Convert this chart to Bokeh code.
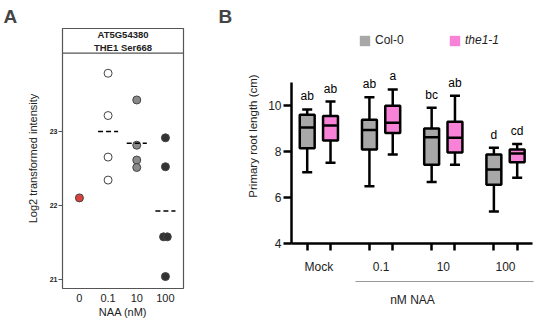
import numpy as np
from bokeh.plotting import figure
from bokeh.layouts import row
from bokeh.models import (ColumnDataSource, FixedTicker, Span, Legend, LegendItem, LinearAxis)
from bokeh.core.properties import value
from bokeh.embed import file_html
from bokeh.resources import INLINE

FONT = "Liberation Sans"

# ---------------- Panel A data ----------------
naa_labels = ["0", "0.1", "10", "100"]
int_0 = [22.10]
int_01 = [23.78, 23.21, 22.65, 22.34]
int_10 = [23.42, 22.81, 22.61, 22.51]
int_100 = [22.91, 22.52, 21.575, 21.575, 21.04]
point_colors = ["#d9423f", "#ffffff", "#8a8a8a", "#333333"]
header_lines = ["AT5G54380", "THE1 Ser668"]

# ---------------- Panel B data ----------------
groups = ["Mock", "0.1", "10", "100"]
genotypes = ["Col-0", "the1-1"]
col_min = [7.10, 6.49, 6.67, 5.39]
col_q1 = [8.14, 8.09, 7.43, 6.55]
col_med = [9.04, 8.94, 8.62, 7.22]
col_q3 = [9.60, 9.38, 9.00, 7.87]
col_max = [9.83, 10.36, 9.90, 8.16]
the_min = [7.51, 7.87, 7.43, 6.86]
the_q1 = [8.48, 8.81, 7.96, 7.53]
the_med = [9.13, 9.25, 8.60, 7.91]
the_q3 = [9.55, 9.99, 9.29, 8.09]
the_max = [10.17, 10.70, 10.42, 8.33]
col_letters = ["ab", "ab", "bc", "d"]
the_letters = ["ab", "a", "ab", "cd"]
box_colors = ["#a8a8a8", "#f882d8"]


def swarm(vals, step=0.13):
    offs = []
    for i, v in enumerate(vals):
        same = [j for j, w in enumerate(vals) if abs(w - v) < 0.05]
        k = same.index(i)
        n = len(same)
        offs.append((k - (n - 1) / 2) * step)
    return offs


# ================= Panel A =================
pA = figure(width=186, height=320, x_range=(-0.59, 3.63), y_range=(20.879, 24.383),
            output_backend="svg", toolbar_location=None, frame_align=False,
            min_border_left=62, min_border_right=3, min_border_top=28, min_border_bottom=31)
pA.title.text = "A"
pA.title.text_font = FONT
pA.title.text_font_size = "19px"
pA.title.text_font_style = "bold"
pA.title.align = "left"
pA.title.offset = -59
pA.title.standoff = 4
pA.grid.visible = False
pA.outline_line_color = "#555555"
pA.outline_line_width = 1.2

for i, vals in enumerate([int_0, int_01, int_10, int_100]):
    xs = [i + o for o in swarm(vals)]
    pA.scatter(xs, vals, size=8, fill_color=point_colors[i], line_color="#444444", line_width=1)
    if len(vals) > 1:
        m = float(np.mean(vals))
        pA.segment(x0=[i - 0.35], y0=[m], x1=[i + 0.35], y1=[m],
                   line_dash="5 3", line_width=1.6, line_color="black")

header_bottom = 24.05
hh = pA.y_range.end - header_bottom
pA.add_layout(Span(location=header_bottom, dimension="width", line_color="#555555", line_width=1.2))
xc = (pA.x_range.start + pA.x_range.end) / 2
pA.text(x=[xc, xc], y=[header_bottom + hh * 0.75, header_bottom + hh * 0.25],
        text=header_lines, text_align="center", text_baseline="middle",
        text_font=value(FONT), text_font_size="9.5px", text_font_style="bold",
        text_color="#222222")

xaA = pA.xaxis[0]
xaA.ticker = FixedTicker(ticks=list(range(len(naa_labels))))
xaA.major_label_overrides = {i: l for i, l in enumerate(naa_labels)}
xaA.axis_line_color = None
xaA.major_tick_line_color = None
xaA.major_tick_out = 0
xaA.major_tick_in = 0
xaA.minor_tick_line_color = None
xaA.minor_tick_out = 0
xaA.major_label_text_font = FONT
xaA.major_label_text_font_size = "11px"
xaA.major_label_text_color = "#222222"
xaA.major_label_standoff = 5
xaA.axis_label = "NAA (nM)"
xaA.axis_label_text_font = FONT
xaA.axis_label_text_font_size = "11px"
xaA.axis_label_text_font_style = "normal"
xaA.axis_label_text_color = "#222222"
xaA.axis_label_standoff = 1

yaA = pA.yaxis[0]
yaA.ticker = FixedTicker(ticks=[21, 22, 23])
yaA.axis_line_color = None
yaA.major_tick_out = 4
yaA.major_tick_in = 0
yaA.major_tick_line_color = "#555555"
yaA.minor_tick_line_color = None
yaA.major_label_text_font = FONT
yaA.major_label_text_font_size = "7px"
yaA.major_label_text_font_style = "bold"
yaA.major_label_text_color = "#222222"
yaA.major_label_standoff = 1
yaA.axis_label = "Log2 transformed intensity"
yaA.axis_label_text_font = FONT
yaA.axis_label_text_font_size = "11px"
yaA.axis_label_text_font_style = "normal"
yaA.axis_label_text_color = "#222222"
yaA.axis_label_standoff = 8

# ================= Panel B =================
GROUP_STEP = 2.67
BOX_W = 0.64
CAP_W = 0.43
pB = figure(width=348, height=320, x_range=(-0.674, 9.71), y_range=(4, 13.35),
            output_backend="svg", toolbar_location=None, frame_align=False,
            min_border_left=105, min_border_right=1, min_border_top=28, min_border_bottom=77)
pB.title.text = "B"
pB.title.text_font = FONT
pB.title.text_font_size = "19px"
pB.title.text_font_style = "bold"
pB.title.align = "left"
pB.title.offset = -73
pB.title.standoff = 4
pB.grid.visible = False
pB.outline_line_color = None

series = [
    (col_min, col_q1, col_med, col_q3, col_max, col_letters),
    (the_min, the_q1, the_med, the_q3, the_max, the_letters),
]
all_pos = []
fill_renderers = []
for j, (mn, q1, md, q3, mx, letters) in enumerate(series):
    xs = [g * GROUP_STEP + j for g in range(len(groups))]
    all_pos += xs
    src = ColumnDataSource(dict(x=xs, mn=mn, q1=q1, md=md, q3=q3, mx=mx, letters=letters,
                                xl=[x - BOX_W / 2 for x in xs], xr=[x + BOX_W / 2 for x in xs],
                                cl=[x - CAP_W / 2 for x in xs], cr=[x + CAP_W / 2 for x in xs]))
    lw = 2.5
    pB.segment(x0="x", y0="q3", x1="x", y1="mx", source=src, line_color="black", line_width=lw)
    pB.segment(x0="x", y0="mn", x1="x", y1="q1", source=src, line_color="black", line_width=lw)
    pB.segment(x0="cl", y0="mx", x1="cr", y1="mx", source=src, line_color="black", line_width=lw)
    pB.segment(x0="cl", y0="mn", x1="cr", y1="mn", source=src, line_color="black", line_width=lw)
    rf = pB.vbar(x="x", width=BOX_W, bottom="q1", top="q3", source=src,
                 fill_color=box_colors[j], line_color=None)
    fill_renderers.append(rf)
    pB.vbar(x="x", width=BOX_W, bottom="q1", top="q3", source=src,
            fill_color=None, line_color="black", line_width=lw)
    pB.segment(x0="xl", y0="md", x1="xr", y1="md", source=src, line_color="black", line_width=lw)
    pB.text(x="x", y="mx", text="letters", source=src, y_offset=-6,
            text_align="center", text_baseline="bottom",
            text_font=value(FONT), text_font_size="12px", text_color="black")

# legend (two legends so only the mutant label is italic)
for j, (lab, loc, style) in enumerate([(genotypes[0], (67, 196), "normal"),
                                        (genotypes[1], (157, 196), "italic")]):
    leg = Legend(items=[LegendItem(label=lab, renderers=[fill_renderers[j]])], location=loc,
                 border_line_color=None, background_fill_alpha=0, padding=0, margin=0,
                 glyph_width=13, glyph_height=13, label_height=13, label_standoff=4,
                 label_text_font=FONT, label_text_font_size="12px",
                 label_text_font_style=style, label_text_color="#222222")
    pB.add_layout(leg)

centers = [g * GROUP_STEP + 0.5 for g in range(len(groups))]
xa = pB.xaxis[0]
xa.bounds = (pB.x_range.start, 9.657)
xa.ticker = FixedTicker(ticks=centers, minor_ticks=sorted(all_pos))
xa.major_label_overrides = {c: g for c, g in zip(centers, groups)}
xa.major_tick_out = 0
xa.major_tick_in = 0
xa.minor_tick_out = 7
xa.minor_tick_in = 0
xa.minor_tick_line_width = 2.5
xa.minor_tick_line_color = "black"
xa.axis_line_width = 2.5
xa.axis_line_color = "black"
xa.major_label_text_font = FONT
xa.major_label_text_font_size = "12px"
xa.major_label_text_color = "#222222"
xa.major_label_standoff = 9
xa.axis_label = " "
xa.axis_label_text_font_size = "2px"
xa.axis_label_standoff = 0

xa2 = LinearAxis(ticker=FixedTicker(ticks=[]), bounds=(2.07, pB.x_range.end))
xa2.axis_line_color = "#999999"
xa2.axis_line_width = 1
xa2.major_tick_line_color = None
xa2.minor_tick_line_color = None
xa2.major_tick_out = 0
xa2.minor_tick_out = 0
xa2.major_label_text_font_size = "0px"
xa2.axis_label = "nM NAA"
xa2.axis_label_text_font = FONT
xa2.axis_label_text_font_size = "12px"
xa2.axis_label_text_font_style = "normal"
xa2.axis_label_text_color = "#222222"
xa2.axis_label_standoff = 11
pB.add_layout(xa2, "below")

ya = pB.yaxis[0]
ya.bounds = (4, 11)
ya.ticker = FixedTicker(ticks=[4, 6, 8, 10])
ya.axis_line_width = 2.5
ya.axis_line_color = "black"
ya.major_tick_out = 8
ya.major_tick_in = 0
ya.major_tick_line_width = 2.5
ya.major_tick_line_color = "black"
ya.minor_tick_line_color = None
ya.major_label_text_font = FONT
ya.major_label_text_font_size = "12px"
ya.major_label_text_color = "#222222"
ya.major_label_standoff = 2
ya.axis_label = "Primary root length (cm)"
ya.axis_label_text_font = FONT
ya.axis_label_text_font_size = "11.5px"
ya.axis_label_text_font_style = "normal"
ya.axis_label_text_color = "#222222"
ya.axis_label_standoff = 6

layout = row(pA, pB)
open("out.html", "w").write(file_html(layout, INLINE))
